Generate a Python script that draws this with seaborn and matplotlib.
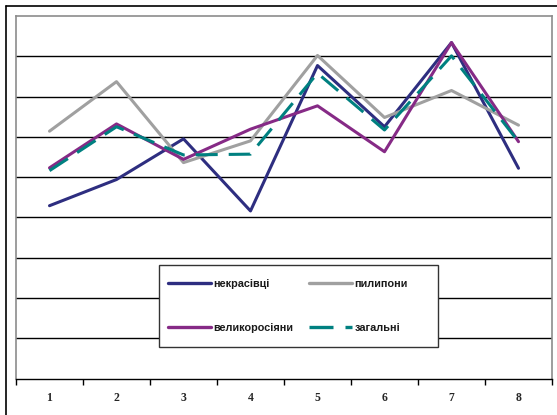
import matplotlib
matplotlib.use("Agg")
import matplotlib.pyplot as plt
import seaborn as sns
import pandas as pd
from matplotlib.lines import Line2D
from matplotlib.patches import Rectangle

categories = [1, 2, 3, 4, 5, 6, 7, 8]
series_names = ["некрасівці", "пилипони", "великоросіяни", "загальні"]
nekrasivci = [4.29, 4.94, 5.95, 4.16, 7.77, 6.25, 8.34, 5.22]
pylypony = [6.14, 7.37, 5.36, 5.90, 8.02, 6.48, 7.15, 6.29]
velykorosiyany = [5.23, 6.32, 5.44, 6.19, 6.77, 5.63, 8.34, 5.88]
zagalni = [5.16, 6.25, 5.55, 5.57, 7.58, 6.17, 8.01, 5.88]

values = [nekrasivci, pylypony, velykorosiyany, zagalni]
rows = []
for name, vals in zip(series_names, values):
    for c, v in zip(categories, vals):
        rows.append({"x": c, "value": v, "series": name})
df = pd.DataFrame(rows)

palette = {"некрасівці": "#2E2E80", "пилипони": "#A0A0A0",
           "великоросіяни": "#862A86", "загальні": "#008080"}
dashes = {"некрасівці": "", "пилипони": "", "великоросіяни": "",
          "загальні": (7.2, 3.6)}

sns.set_style("white")
W, H = 557, 415
fig = plt.figure(figsize=(W / 100, H / 100), dpi=100)
ax = fig.add_axes([16 / W, 1 - 378.5 / H, (552 - 16) / W, (378.5 - 16) / H])

sns.lineplot(data=df, x="x", y="value", hue="series", style="series",
             palette=palette, dashes=dashes, hue_order=series_names,
             style_order=series_names, linewidth=2.2, ax=ax, legend=True)

ax.set_xlim(0.5, 8.5)
ax.set_ylim(0, 9)
ax.set_yticks(range(1, 9))
ax.set_yticklabels([])
ax.tick_params(axis="y", length=0)
ax.yaxis.grid(True, color="black", linewidth=1.0)
ax.set_axisbelow(True)
ax.set_xlabel("")
ax.set_ylabel("")

ax.set_xticks([i + 0.5 for i in range(0, 9)])
ax.set_xticklabels([])
ax.tick_params(axis="x", which="major", bottom=True, direction="out",
               length=4, width=1, color="black")
ax.set_xticks(categories, minor=True)
ax.set_xticklabels([str(c) for c in categories], minor=True,
                   fontfamily="Liberation Serif", fontweight="bold",
                   fontsize=8.5)
ax.tick_params(axis="x", which="minor", bottom=True, length=0, pad=10)

for s in ["left", "top", "right"]:
    ax.spines[s].set_color("#8C8C8C")
    ax.spines[s].set_linewidth(1.2)
ax.spines["bottom"].set_color("black")
ax.spines["bottom"].set_linewidth(1.0)

handles, labels = ax.get_legend_handles_labels()
ax.get_legend().remove()
leg = fig.legend([handles[i] for i in [0, 2, 1, 3]],
                 [labels[i] for i in [0, 2, 1, 3]],
                 ncol=2, loc="upper left",
                 bbox_to_anchor=(168 / W, 1 - 279 / H),
                 frameon=False, borderpad=0, borderaxespad=0,
                 handlelength=4.0, handletextpad=0.2, columnspacing=1.4,
                 labelspacing=3.1,
                 prop={"family": "Liberation Sans", "weight": "bold",
                       "size": 7.8})
for t in leg.get_texts():
    t.set_color("#1a1a1a")
for h in leg.get_lines():
    h.set_linewidth(2.4)

fig.patches.append(Rectangle((159 / W, 1 - 347 / H), (438 - 159) / W,
                             (347 - 265) / H, transform=fig.transFigure,
                             facecolor="white", edgecolor="#333333",
                             linewidth=1.0, zorder=2))
leg.set_zorder(3)

fig.lines.append(Line2D([6 / W, 6 / W], [1 - 6 / H, 0], transform=fig.transFigure,
                        color="black", linewidth=1.2))
fig.lines.append(Line2D([6 / W, 1], [1 - 6 / H, 1 - 6 / H], transform=fig.transFigure,
                        color="black", linewidth=1.2))

fig.savefig("out.png", dpi=100)
